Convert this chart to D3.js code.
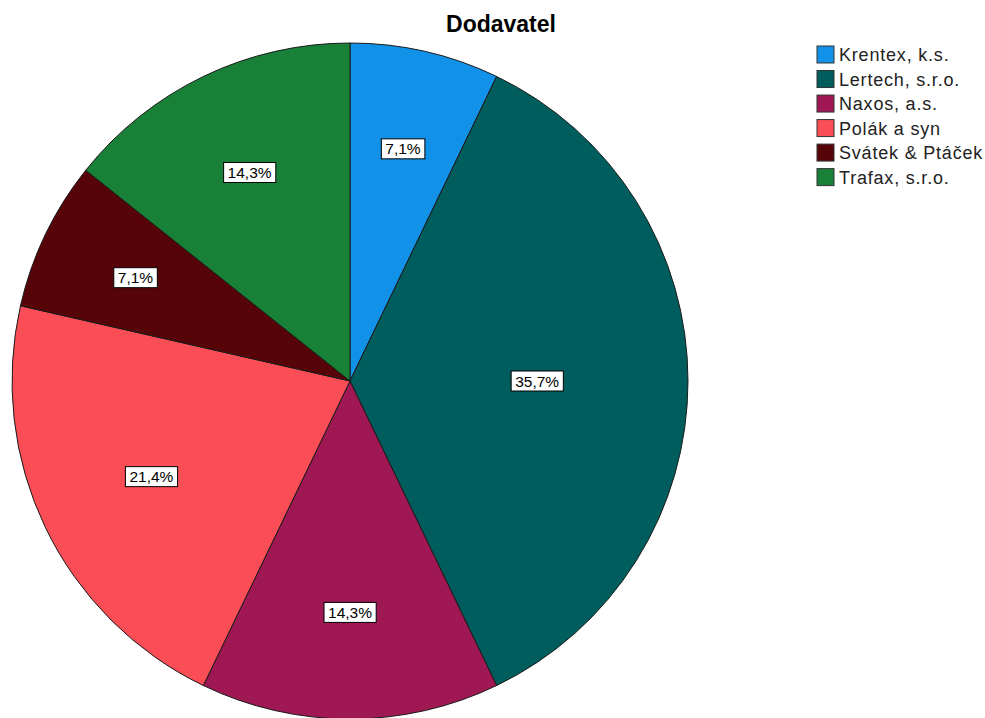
<!DOCTYPE html>
<html>
<head>
<meta charset="utf-8">
<script src="https://cdn.jsdelivr.net/npm/d3@7"></script>
<style>
  body { margin: 0; background: #fff; }
  svg { display: block; }
</style>
</head>
<body>
<div id="wrapper"></div>
<script>
// supplier counts (percent = count / 14)
const suppliers = ["Krentex, k.s.", "Lertech, s.r.o.", "Naxos, a.s.", "Polák a syn", "Svátek & Ptáček", "Trafax, s.r.o."];
const counts = [1, 5, 2, 3, 1, 2];
const colors = ["#1192e8", "#005d5d", "#9f1853", "#fa4d56", "#570408", "#198038"];

const width = 985, height = 718;
const cx = 350, cy = 381, radius = 338;

const svg = d3.select("#wrapper")
  .append("svg")
  .attr("width", width)
  .attr("height", height);

svg.append("text")
  .attr("x", 501)
  .attr("y", 32)
  .attr("text-anchor", "middle")
  .attr("font-family", "Liberation Sans, Arial, sans-serif")
  .attr("font-weight", "bold")
  .attr("font-size", 23)
  .attr("fill", "#000")
  .text("Dodavatel");

const total = d3.sum(counts);
const data = suppliers.map((s, i) => ({ name: s, value: counts[i], color: colors[i] }));

const pie = d3.pie()
  .sort(null)
  .value(d => d.value);

const arc = d3.arc()
  .innerRadius(0)
  .outerRadius(radius);

const arcs = pie(data);

const g = svg.append("g")
  .attr("transform", `translate(${cx}, ${cy})`);

g.selectAll("path")
  .data(arcs)
  .enter()
  .append("path")
  .attr("d", arc)
  .attr("fill", d => d.data.color)
  .attr("stroke", "#1a1a1a")
  .attr("stroke-width", 1);

// label near the area centroid of each sector (spread a bit)
const fmt = v => (Math.round(v / total * 1000) / 10).toFixed(1).replace(".", ",") + "%";
const labelPos = d => {
  const a = (d.endAngle - d.startAngle) / 2;
  const mid = (d.startAngle + d.endAngle) / 2;
  const c = 2 * radius * Math.sin(a) / (3 * a);
  const r = 1.2 * c - 30;
  return [r * Math.sin(mid), -r * Math.cos(mid)];
};

const labels = g.selectAll("g.lab")
  .data(arcs)
  .enter()
  .append("g")
  .attr("class", "lab")
  .attr("transform", d => `translate(${labelPos(d)})`);

labels.append("text")
  .attr("text-anchor", "middle")
  .attr("dy", "0.36em")
  .attr("font-family", "Liberation Sans, Arial, sans-serif")
  .attr("font-size", 15.5)
  .attr("fill", "#000")
  .text(d => fmt(d.data.value));

labels.each(function() {
  const sel = d3.select(this);
  const bb = sel.select("text").node().getBBox();
  sel.insert("rect", "text")
    .attr("x", bb.x - 4)
    .attr("y", -10)
    .attr("width", bb.width + 8)
    .attr("height", 20)
    .attr("fill", "#fff")
    .attr("stroke", "#000")
    .attr("stroke-width", 1);
});

// legend
const y = d3.scaleBand()
  .domain(suppliers)
  .range([46, 187])
  .paddingInner(0.25);

const legend = svg.append("g");
const items = legend.selectAll("g")
  .data(data)
  .enter()
  .append("g")
  .attr("transform", d => `translate(817, ${y(d.name)})`);

items.append("rect")
  .attr("width", 17)
  .attr("height", 17)
  .attr("fill", d => d.color)
  .attr("stroke", "#333")
  .attr("stroke-width", 1);

items.append("text")
  .attr("x", 22)
  .attr("y", 8.5)
  .attr("dy", "0.36em")
  .attr("font-family", "Liberation Sans, Arial, sans-serif")
  .attr("font-size", 18)
  .attr("letter-spacing", 0.8)
  .attr("fill", "#222")
  .text(d => d.name);
</script>
</body>
</html>
